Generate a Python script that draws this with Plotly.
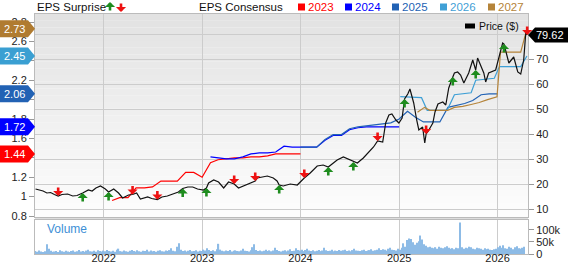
import plotly.graph_objects as go
import pandas as pd

# ---------------- data ----------------
price_dates = [
    "2021-04-23", "2021-05-07", "2021-05-21", "2021-06-04", "2021-06-18", "2021-07-02", "2021-07-16",
    "2021-07-30", "2021-08-20", "2021-09-08", "2021-09-24", "2021-10-15", "2021-11-05", "2021-11-19",
    "2021-12-03", "2021-12-20", "2022-01-07", "2022-01-19", "2022-02-07", "2022-02-25", "2022-03-12",
    "2022-04-03", "2022-04-18", "2022-05-03", "2022-05-17", "2022-06-13", "2022-06-28", "2022-07-19",
    "2022-08-05", "2022-08-25", "2022-09-17", "2022-10-05", "2022-10-21", "2022-11-09", "2022-11-27",
    "2022-12-15", "2023-01-06", "2023-01-17", "2023-01-25", "2023-02-13", "2023-03-03", "2023-03-22",
    "2023-04-09", "2023-04-30", "2023-05-16", "2023-06-11", "2023-07-06", "2023-07-17", "2023-07-25",
    "2023-08-31", "2023-09-22", "2023-10-06", "2023-10-14", "2023-10-29", "2023-11-24", "2023-12-20",
    "2024-01-15", "2024-02-06", "2024-03-03", "2024-03-25", "2024-04-13", "2024-05-16", "2024-06-08",
    "2024-07-04", "2024-07-15", "2024-07-30", "2024-08-21", "2024-09-09", "2024-09-28", "2024-10-13",
    "2024-11-01", "2024-11-12", "2024-11-24", "2024-12-05", "2024-12-20", "2024-12-31", "2025-01-12",
    "2025-01-21", "2025-02-02", "2025-02-10", "2025-02-24", "2025-03-07", "2025-03-15", "2025-03-29",
    "2025-04-06", "2025-04-11", "2025-04-18", "2025-05-06", "2025-05-14", "2025-05-25", "2025-06-12",
    "2025-06-23", "2025-07-04", "2025-07-19", "2025-07-25", "2025-08-06", "2025-08-17", "2025-08-29",
    "2025-09-16", "2025-10-01", "2025-10-12", "2025-10-19", "2025-11-03", "2025-11-11", "2025-11-18",
    "2025-11-29", "2025-12-25", "2026-01-06", "2026-01-20", "2026-01-25", "2026-01-28", "2026-02-12",
    "2026-03-02", "2026-03-17", "2026-03-28", "2026-04-08", "2026-04-16", "2026-04-21",
]
price_values = [
    18.0, 17.6, 17.2, 16.4, 16.6, 15.8, 15.2,
    15.8, 16.0, 15.2, 15.4, 16.4, 17.6, 17.2,
    18.4, 19.2, 18.0, 16.8, 18.0, 16.4, 14.4,
    15.6, 15.8, 16.4, 14.0, 14.8, 14.2, 13.8,
    14.8, 15.2, 16.0, 16.8, 18.2, 18.8, 18.8,
    18.0, 17.6, 18.4, 20.4, 21.6, 20.8, 18.4,
    20.8, 20.0, 18.4, 19.6, 20.8, 21.2, 22.4,
    23.2, 22.4, 21.2, 19.6, 19.2, 20.0, 19.6,
    22.4, 24.4, 27.2, 27.6, 26.8, 29.6, 30.8,
    29.6, 28.8, 28.4, 30.4, 32.4, 34.8, 37.2,
    36.8, 44.4, 47.6, 48.0, 45.6, 44.4, 46.4,
    54.0, 56.0, 58.0, 52.4, 45.6, 41.6, 42.8,
    36.4, 40.0, 41.0, 44.4, 48.8, 52.0, 52.8,
    51.6, 58.4, 62.8, 64.4, 64.8, 63.6, 60.4,
    64.4, 69.6, 65.6, 70.4, 66.4, 64.4, 60.8,
    64.4, 65.6, 70.8, 76.4, 76.0, 74.8, 68.4,
    70.8, 64.8, 64.0, 69.6, 80.8, 79.62,
]
last_price_label = "79.62"

beat_dates = ["2021-10-15", "2022-01-19", "2022-10-21", "2023-01-17", "2023-10-14", "2024-04-13",
              "2024-07-15", "2025-01-21", "2025-07-19", "2025-10-12", "2026-01-25"]
miss_dates = ["2021-07-16", "2022-04-18", "2022-07-19", "2023-04-30", "2023-07-17", "2024-01-15",
              "2024-10-13", "2025-04-11", "2026-04-21"]

c2023_dates = ["2022-02-01", "2022-03-01", "2022-04-01", "2022-05-01", "2022-06-01", "2022-07-01",
               "2022-08-01", "2022-09-01", "2022-10-01", "2022-11-01", "2022-12-01", "2023-01-01",
               "2023-02-01", "2023-03-01", "2023-04-01", "2023-05-01", "2023-06-01", "2023-07-01",
               "2023-08-01", "2023-09-01", "2023-10-01", "2023-11-01", "2023-12-01", "2024-01-01"]
c2023 = [0.96, 0.99, 0.99, 1.09, 1.09, 1.10, 1.16, 1.16, 1.16, 1.25, 1.25, 1.20,
         1.35, 1.38, 1.39, 1.40, 1.40, 1.41, 1.41, 1.42, 1.44, 1.44, 1.44, 1.44]

c2024_dates = ["2023-02-01", "2023-03-01", "2023-04-01", "2023-05-01", "2023-06-01", "2023-07-01",
               "2023-08-01", "2023-09-01", "2023-10-01", "2023-11-01", "2023-12-01", "2024-01-01",
               "2024-02-01", "2024-03-01", "2024-04-01", "2024-05-01", "2024-06-01", "2024-07-01",
               "2024-08-01", "2024-09-01", "2024-10-01", "2024-11-01", "2024-12-01", "2025-01-01"]
c2024 = [1.41, 1.40, 1.39, 1.39, 1.41, 1.44, 1.45, 1.45, 1.46, 1.52, 1.51, 1.51,
         1.51, 1.51, 1.58, 1.63, 1.63, 1.69, 1.71, 1.72, 1.72, 1.72, 1.72, 1.72]

c2025_dates = ["2024-01-01", "2024-02-01", "2024-03-01", "2024-04-01", "2024-05-01", "2024-06-01",
               "2024-07-01", "2024-08-01", "2024-09-01", "2024-10-01", "2024-11-01", "2024-12-01",
               "2025-01-01", "2025-02-01", "2025-03-01", "2025-04-01", "2025-05-01", "2025-06-01",
               "2025-07-01", "2025-08-01", "2025-09-01", "2025-10-01", "2025-11-01", "2025-12-01",
               "2026-01-01"]
c2025 = [1.51, 1.51, 1.51, 1.59, 1.64, 1.64, 1.70, 1.72, 1.73, 1.74, 1.75, 1.76,
         1.80, 1.88, 1.82, 1.77, 1.77, 1.77, 1.92, 1.94, 1.96, 1.99, 2.05, 2.06, 2.06]

c2026_dates = ["2025-01-05", "2025-03-25", "2025-04-15", "2025-06-28", "2025-07-25", "2025-09-25",
               "2025-10-12", "2025-12-20", "2026-01-08", "2026-03-28", "2026-04-20"]
c2026 = [2.03, 2.02, 1.89, 1.89, 2.05, 2.07, 2.20, 2.22, 2.34, 2.34, 2.45]

c2027_dates = ["2025-03-10", "2025-04-05", "2025-04-25", "2025-06-30", "2025-07-25", "2025-08-25",
               "2025-09-25", "2025-10-25", "2025-11-25", "2025-12-30", "2026-01-12", "2026-02-15",
               "2026-03-28", "2026-04-20"]
c2027 = [1.87, 1.92, 1.89, 1.89, 1.92, 1.93, 1.95, 1.97, 2.00, 2.03, 2.49, 2.49, 2.49, 2.73]

consensus_years = ["2023", "2024", "2025", "2026", "2027"]

volume_start = "2021-04-23"
volume_k = [
    # 2021
    12, 9, 14, 10, 8, 11, 40, 22, 13, 9, 10, 12, 8, 15, 11, 9, 13, 10, 8, 12, 14, 9, 11, 16, 10, 12,
    9, 14, 18, 11, 10, 13, 9, 15, 12, 10,
    # 2022
    14, 11, 16, 12, 10, 13, 9, 18, 22, 12, 10, 14, 11, 9, 13, 16, 12, 10, 15, 11, 9, 13, 12, 17, 10,
    14, 11, 12, 9, 13, 15, 11, 10, 14, 12, 16, 24, 13, 11, 30, 44, 18, 12, 14, 10, 13, 16, 11, 12,
    15, 10, 13,
    # 2023
    12, 18, 14, 24, 16, 12, 15, 11, 20, 42, 18, 13, 11, 14, 12, 16, 10, 13, 15, 12, 11, 14, 22, 13,
    12, 10, 15, 28, 40, 16, 12, 14, 11, 13, 18, 12, 15, 11, 14, 26, 16, 12, 10, 13, 15, 11, 14, 20,
    12, 13, 24, 16,
    # 2024
    14, 18, 12, 16, 22, 14, 12, 15, 11, 13, 16, 12, 14, 26, 15, 12, 13, 17, 11, 14, 12, 16, 13, 15,
    18, 12, 14, 11, 16, 22, 14, 13, 12, 15, 17, 12, 14, 16, 20, 13, 15, 18, 24, 16, 20, 18, 14, 22,
    26, 18, 16, 14,
    # 2025
    22, 18, 26, 44, 30, 58, 64, 62, 48, 38, 46, 52, 76, 60, 40, 34, 28, 30, 26, 24, 28, 22, 30, 26,
    24, 28, 32, 26, 22, 24, 20, 26, 24, 130, 28, 22, 26, 24, 30, 28, 22, 20, 26, 24, 22, 18, 24, 20,
    22, 18, 16, 20,
    # 2026
    22, 28, 34, 26, 36, 24, 22, 30, 26, 20, 28, 32, 24, 22, 26, 30,
]

eps_ticks = [0.8, 1, 1.2, 1.4, 1.6, 1.8, 2, 2.2, 2.4, 2.6, 2.8]
eps_ticktext = ["0.8", "1", "1.2", "", "1.6", "1.8", "", "2.2", "", "2.6", "2.8"]
price_ticks = [10, 20, 30, 40, 50, 60, 70, 80]
price_ticktext = ["10", "20", "30", "40", "50", "60", "70", ""]
volume_ticks = [0, 50, 100]
volume_ticktext = ["0", "50k", "100k"]

# ---------------- styling ----------------
W, H = 568, 264
ML, MR, MT, MB = 35, 40, 14, 10
PW, PH = W - ML - MR, H - MT - MB
FONT = "Arial, 'Liberation Sans', sans-serif"
cons_colors = ["#ff0000", "#0000ff", "#2262b4", "#3fa0d6", "#b5843a"]
badge_colors = ["#ff0000", "#0000ff", "#2262b4", "#3a9fd2", "#b07b30"]
GREEN = "#1e8c1e"
RED = "#ee1111"
GRID = "#cccccc"
ARW = dict(arrowhead=1, arrowsize=0.65, arrowwidth=2.6, standoff=0, text="", showarrow=True)


def px_x(p):
    return (p - ML) / PW


def px_y(p):
    return (H - MB - p) / PH


main_bottom_px = 217
vol_top_px = 220
main_domain = [px_y(main_bottom_px), 1]
vol_domain = [0, px_y(vol_top_px)]

fig = go.Figure()

cons_series = [(c2023_dates, c2023), (c2024_dates, c2024), (c2025_dates, c2025),
               (c2026_dates, c2026), (c2027_dates, c2027)]
for (d, v), col, name in zip(cons_series, cons_colors, consensus_years):
    fig.add_trace(go.Scatter(x=pd.to_datetime(d), y=v, mode="lines", name=name,
                             line=dict(color=col, width=1.2), xaxis="x", yaxis="y",
                             hoverinfo="skip"))

fig.add_trace(go.Scatter(x=pd.to_datetime(price_dates), y=price_values, mode="lines",
                         name="Price ($)", line=dict(color="#111111", width=1.2),
                         xaxis="x", yaxis="y2"))

vol_dates = pd.date_range(volume_start, periods=len(volume_k), freq="7D")
fig.add_trace(go.Bar(x=vol_dates, y=volume_k, marker=dict(color="#8dbbe6", line=dict(width=0)),
                     xaxis="x2", yaxis="y3", name="Volume"))

price_lookup = dict(zip(price_dates, price_values))
annotations = []
for d in beat_dates:
    annotations.append(dict(x=d, y=price_lookup[d], xref="x", yref="y2", ax=0, ay=10,
                            arrowcolor=GREEN, **ARW))
for d in miss_dates:
    annotations.append(dict(x=d, y=price_lookup[d], xref="x", yref="y2", ax=0, ay=-10,
                            arrowcolor=RED, **ARW))

shapes = []
# background gradient of the main panel
n_bands = 30
top_c, bot_c = 226, 253
for i in range(n_bands):
    y0 = MT + (main_bottom_px - MT) * i / n_bands
    y1 = MT + (main_bottom_px - MT) * (i + 1) / n_bands
    c = round(top_c + (bot_c - top_c) * i / (n_bands - 1))
    shapes.append(dict(type="rect", xref="paper", yref="paper", x0=0, x1=1,
                       y0=px_y(y1), y1=px_y(y0), line=dict(width=0),
                       fillcolor=f"rgb({c},{c},{c})", layer="below"))
# separator band
shapes.append(dict(type="rect", xref="paper", yref="paper", x0=0, x1=1,
                   y0=px_y(vol_top_px), y1=px_y(main_bottom_px), line=dict(width=0),
                   fillcolor="#dddddd", layer="below"))

# EPS badges (left)
last_eps = [c2023[-1], c2024[-1], c2025[-1], c2026[-1], c2027[-1]]
for val, col in zip(last_eps, badge_colors):
    shapes.append(dict(type="path", xref="paper", yref="y", xsizemode="pixel",
                       ysizemode="pixel", xanchor=0, yanchor=val,
                       path="M-35,-8.5 L-7,-8.5 L0,0 L-7,8.5 L-35,8.5 Z",
                       fillcolor=col, line=dict(width=0), layer="above"))
    annotations.append(dict(x=0, y=val, xref="paper", yref="y", xshift=-21,
                            text=f"{val:.2f}", showarrow=False, xanchor="center",
                            font=dict(color="white", size=11, family=FONT)))

# price badge (right)
shapes.append(dict(type="path", xref="paper", yref="y2", xsizemode="pixel",
                   ysizemode="pixel", xanchor=1, yanchor=price_values[-1],
                   path="M0,0 L7,-7.5 L40,-7.5 L40,7.5 L7,7.5 Z",
                   fillcolor="#000000", line=dict(width=0), layer="above"))
annotations.append(dict(x=1, y=price_values[-1], xref="paper", yref="y2", xshift=22,
                        text=last_price_label, showarrow=False, xanchor="center",
                        font=dict(color="white", size=11, family=FONT)))

# header: EPS Surprise
annotations.append(dict(x=0, y=px_y(7), xref="paper", yref="paper", text="EPS Surprise",
                        showarrow=False, xanchor="left", yanchor="middle",
                        font=dict(size=11.5, color="#111", family=FONT)))
annotations.append(dict(x=px_x(110), y=px_y(2), xref="paper", yref="paper", ax=0, ay=10,
                        arrowcolor=GREEN, **ARW))
annotations.append(dict(x=px_x(121), y=px_y(12), xref="paper", yref="paper", ax=0, ay=-10,
                        arrowcolor=RED, **ARW))

# header: EPS Consensus legend
annotations.append(dict(x=px_x(197), y=px_y(7), xref="paper", yref="paper", text="EPS Consensus",
                        showarrow=False, xanchor="left", yanchor="middle",
                        font=dict(size=11.5, color="#111", family=FONT)))
legend_sq_px = [298, 345, 392, 440, 488]
for sx, col, name in zip(legend_sq_px, cons_colors, consensus_years):
    shapes.append(dict(type="rect", xref="paper", yref="paper", xsizemode="pixel",
                       ysizemode="pixel", xanchor=px_x(sx), yanchor=px_y(7),
                       x0=0, x1=7, y0=-3.5, y1=3.5, fillcolor=col, line=dict(width=0)))
    annotations.append(dict(x=px_x(sx + 8), y=px_y(7), xref="paper", yref="paper", text=name,
                            showarrow=False, xanchor="left", yanchor="middle",
                            font=dict(size=11.5, color=col, family=FONT)))

# Price ($) legend
shapes.append(dict(type="rect", xref="paper", yref="paper", xsizemode="pixel",
                   ysizemode="pixel", xanchor=px_x(465), yanchor=px_y(26),
                   x0=0, x1=10, y0=-2.5, y1=2.5, fillcolor="#000", line=dict(width=0)))
annotations.append(dict(x=px_x(477), y=px_y(26), xref="paper", yref="paper", text="Price ($)",
                        showarrow=False, xanchor="left", yanchor="middle",
                        font=dict(size=10.5, color="#111", family=FONT)))

# Volume label
annotations.append(dict(x=px_x(45), y=px_y(229), xref="paper", yref="paper", text="Volume",
                        showarrow=False, xanchor="left", yanchor="middle",
                        font=dict(size=12, color="#3d8fd6", family=FONT)))

x_range = ["2021-04-21", "2026-04-24"]
tickfont = dict(size=11, color="#222", family=FONT)

fig.update_layout(
    width=W, height=H,
    margin=dict(l=ML, r=MR, t=MT, b=MB, pad=0, autoexpand=False),
    paper_bgcolor="white", plot_bgcolor="rgba(0,0,0,0)",
    showlegend=False,
    font=dict(family=FONT),
    xaxis=dict(domain=[0, 1], anchor="y", range=x_range, type="date", showticklabels=False,
               showgrid=True, gridcolor=GRID, gridwidth=1, dtick="M12", tick0="2022-01-01",
               ticks="", showline=True, linecolor="#bbbbbb", mirror=True, zeroline=False,
               automargin=False),
    yaxis=dict(domain=main_domain, anchor="x", range=[0.79, 2.8825], tickvals=eps_ticks,
               ticktext=eps_ticktext, showgrid=False, zeroline=False,
               ticks="outside", ticklen=5, tickcolor="#999", tickfont=tickfont,
               showline=True, linecolor="#bbbbbb", automargin=False),
    yaxis2=dict(domain=main_domain, anchor="x", overlaying="y", side="right",
                range=[6.8, 88], tickvals=price_ticks, ticktext=price_ticktext,
                showgrid=True, gridcolor=GRID,
                zeroline=False, ticks="outside", ticklen=5, tickcolor="#999",
                tickfont=tickfont, showline=True, linecolor="#bbbbbb", automargin=False),
    xaxis2=dict(domain=[0, 1], anchor="y3", range=x_range, type="date", matches="x",
                showgrid=True, gridcolor=GRID, dtick="M12", tick0="2022-01-01",
                tickformat="%Y", ticks="", tickfont=tickfont, showline=True,
                linecolor="#bbbbbb", mirror=True, zeroline=False, automargin=False),
    yaxis3=dict(domain=vol_domain, anchor="x2", side="right", range=[0, 140],
                tickvals=volume_ticks, ticktext=volume_ticktext, showgrid=False,
                zeroline=False, ticks="outside", ticklen=5, tickcolor="#999",
                tickfont=tickfont, showline=True, linecolor="#bbbbbb", mirror=True,
                automargin=False),
    bargap=0.4,
    shapes=shapes,
    annotations=annotations,
)
try:
    fig.layout.xaxis2.ticklabelstandoff = -6
except Exception:
    pass

fig.write_html("out.html")
